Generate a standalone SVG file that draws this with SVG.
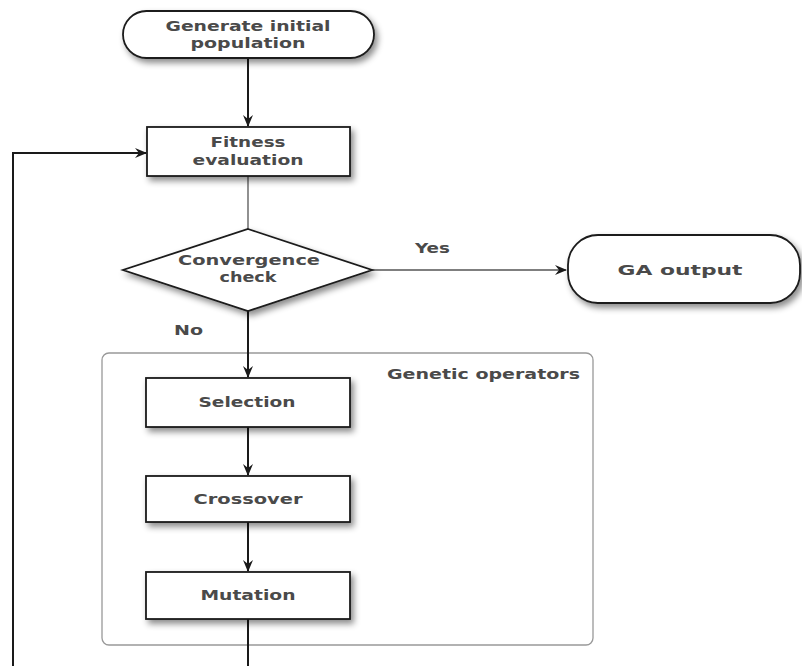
<svg xmlns="http://www.w3.org/2000/svg" width="802" height="666" viewBox="0 0 802 666">
<defs>
<filter id="sh" x="-20%" y="-20%" width="150%" height="160%">
<feDropShadow dx="3" dy="4" stdDeviation="3" flood-color="#000" flood-opacity="0.45"/>
</filter>
<marker id="ah" viewBox="0 0 12 10" refX="11" refY="5" markerWidth="12" markerHeight="10" markerUnits="userSpaceOnUse" orient="auto">
<path d="M0,0 L12,5 L0,10 L4,5 Z" fill="#1a1a1a"/>
</marker>
</defs>
<style>
.node{fill:#fff;stroke:#1a1a1a;stroke-width:1.8;filter:url(#sh)}
.t{font-family:"DejaVu Sans",sans-serif;font-size:14px;font-weight:bold;fill:#4a4a4a;text-anchor:middle}
.c{fill:none;stroke:#1a1a1a;stroke-width:2}
.cl{fill:none;stroke:#555;stroke-width:1.3}
.lbl{font-family:"DejaVu Sans",sans-serif;font-size:14px;font-weight:bold;fill:#4a4a4a}
</style>
<rect width="802" height="666" fill="#fff"/>
<g id="group-genetic">
<rect x="102" y="353" width="491" height="292" rx="7" fill="none" stroke="#999" stroke-width="1.3"/>
<text class="lbl" x="387" y="379" textLength="193" lengthAdjust="spacingAndGlyphs">Genetic operators</text>
</g>
<g id="connectors">
<line class="c" x1="248" y1="58" x2="248" y2="126" marker-end="url(#ah)"/>
<line class="cl" x1="248" y1="176" x2="248" y2="229"/>
<line class="cl" x1="372" y1="270" x2="566" y2="270" marker-end="url(#ah)"/>
<line class="c" x1="248" y1="311" x2="248" y2="377" marker-end="url(#ah)"/>
<line class="c" x1="248" y1="427" x2="248" y2="475" marker-end="url(#ah)"/>
<line class="c" x1="248" y1="522" x2="248" y2="571" marker-end="url(#ah)"/>
<line class="c" x1="248" y1="619" x2="248" y2="666"/>
<polyline class="c" points="13,666 13,153 146,153" marker-end="url(#ah)"/>
<text class="lbl" x="415" y="253" textLength="35" lengthAdjust="spacingAndGlyphs">Yes</text>
<text class="lbl" x="174" y="335" textLength="29" lengthAdjust="spacingAndGlyphs">No</text>
</g>
<g id="node-generate">
<rect class="node" x="123" y="11" width="251" height="47" rx="23.5"/>
<text class="t" x="248" y="31" textLength="165" lengthAdjust="spacingAndGlyphs">Generate initial</text>
<text class="t" x="248" y="48" textLength="115" lengthAdjust="spacingAndGlyphs">population</text>
</g>
<g id="node-fitness">
<rect class="node" x="147" y="127" width="203" height="49"/>
<text class="t" x="248" y="147" textLength="75" lengthAdjust="spacingAndGlyphs">Fitness</text>
<text class="t" x="248" y="165" textLength="111" lengthAdjust="spacingAndGlyphs">evaluation</text>
</g>
<g id="node-convergence">
<polygon class="node" points="248,229 372,270 248,311 123,270"/>
<text class="t" x="249" y="265" textLength="142" lengthAdjust="spacingAndGlyphs">Convergence</text>
<text class="t" x="248" y="282" textLength="57" lengthAdjust="spacingAndGlyphs">check</text>
</g>
<g id="node-output">
<rect class="node" x="568" y="235" width="232" height="68" rx="30"/>
<text class="t" x="680" y="275" textLength="125" lengthAdjust="spacingAndGlyphs">GA output</text>
</g>
<g id="node-selection">
<rect class="node" x="146" y="378" width="204" height="49"/>
<text class="t" x="247" y="407" textLength="97" lengthAdjust="spacingAndGlyphs">Selection</text>
</g>
<g id="node-crossover">
<rect class="node" x="146" y="476" width="204" height="46"/>
<text class="t" x="248" y="504" textLength="109" lengthAdjust="spacingAndGlyphs">Crossover</text>
</g>
<g id="node-mutation">
<rect class="node" x="146" y="572" width="204" height="47"/>
<text class="t" x="248" y="600" textLength="95" lengthAdjust="spacingAndGlyphs">Mutation</text>
</g>
</svg>
